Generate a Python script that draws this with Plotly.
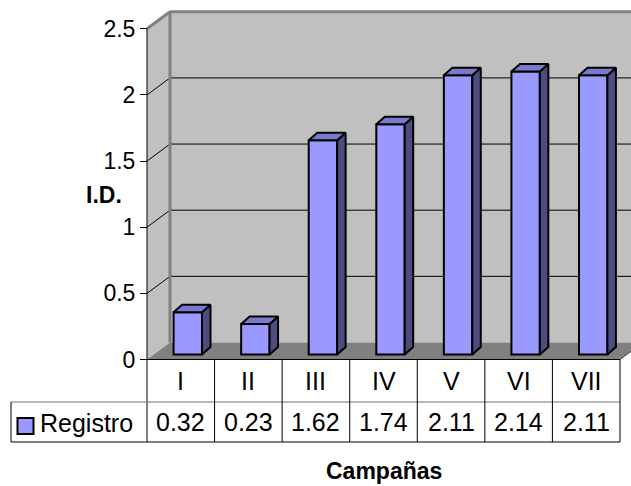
import plotly.graph_objects as go

# ---------------- data ----------------
categories = ["I", "II", "III", "IV", "V", "VI", "VII"]
values = [0.32, 0.23, 1.62, 1.74, 2.11, 2.14, 2.11]
series_name = "Registro"
y_ticks = [0, 0.5, 1, 1.5, 2, 2.5]
y_title = "I.D."
x_title = "Campañas"

# ---------------- geometry (pixel calibration) ----------------
W, H = 631, 486
X0 = 147.0      # left edge of category area (px)
COLW = 67.57    # column width (px)
Y0 = 359.5      # baseline (px from top)
K = 132.3       # px per value unit


def ux(px):
    return (px - X0) / COLW - 0.5


def uy(py):
    return (Y0 - py) / K


n = len(categories)
XL, XR = -0.5, n - 0.5
YMAX = y_ticks[-1]
DX, DY = 23 / COLW, 17 / K          # wall depth
BX, BY = 7 / COLW, 5 / K            # bar set-back
BW = 28.4 / COLW                    # bar width
SDX, SDY = 8.5 / COLW, 7.5 / K      # bar depth

FRONT = "#9999FF"
TOP = "#7A7ACC"
SIDE = "#4C4C80"
WALL = "#C0C0C0"
FLOOR = "#808080"
FONT = "Liberation Sans, Arial, sans-serif"
FS_TICK = 23
FS_TABLE = 25
FS_TITLE = 23

fig = go.Figure()

# bar front faces
fig.add_trace(go.Bar(
    x=[i + BX for i in range(n)], y=values, base=BY, width=BW,
    marker=dict(color=FRONT, line=dict(color="black", width=2)),
    hoverinfo="skip", showlegend=False,
))

# side and top faces
for i, v in enumerate(values):
    xl = i + BX - BW / 2
    xr = i + BX + BW / 2
    yt = BY + v
    fig.add_trace(go.Scatter(
        x=[xr, xr, xr + SDX, xr + SDX, xr], y=[BY, yt, yt + SDY, BY + SDY, BY],
        mode="lines", fill="toself", fillcolor=SIDE,
        line=dict(color="black", width=2), hoverinfo="skip", showlegend=False,
    ))
    fig.add_trace(go.Scatter(
        x=[xl, xr, xr + SDX, xl + SDX, xl], y=[yt, yt, yt + SDY, yt + SDY, yt],
        mode="lines", fill="toself", fillcolor=TOP,
        line=dict(color="black", width=2), hoverinfo="skip", showlegend=False,
    ))

shapes = []
XEND = ux(W) + 0.5
# back wall
shapes.append(dict(type="rect", xref="x", yref="y", x0=XL + DX, x1=XEND,
                   y0=DY, y1=YMAX + DY, fillcolor=WALL, line=dict(width=0), layer="below"))
# side wall
shapes.append(dict(type="path", xref="x", yref="y",
                   path=f"M {XL} 0 L {XL} {YMAX} L {XL+DX} {YMAX+DY} L {XL+DX} {DY} Z",
                   fillcolor=WALL, line=dict(width=0), layer="below"))
# floor
shapes.append(dict(type="path", xref="x", yref="y",
                   path=f"M {XL} 0 L {XR} 0 L {XR+DX} {DY} L {XL+DX} {DY} Z",
                   fillcolor=FLOOR, line=dict(width=0), layer="below"))
# gridlines
for t in y_ticks[1:-1]:
    shapes.append(dict(type="line", xref="x", yref="y", x0=XL + DX, x1=XEND,
                       y0=t + DY, y1=t + DY, line=dict(color="black", width=1), layer="below"))
    shapes.append(dict(type="line", xref="x", yref="y", x0=XL, x1=XL + DX,
                       y0=t, y1=t + DY, line=dict(color="black", width=1), layer="below"))
# wall borders
shapes.append(dict(type="line", xref="x", yref="y", x0=XL + DX, x1=XEND,
                   y0=YMAX + DY, y1=YMAX + DY, line=dict(color=FLOOR, width=3), layer="below"))
shapes.append(dict(type="line", xref="x", yref="y", x0=XL, x1=XL + DX,
                   y0=YMAX, y1=YMAX + DY, line=dict(color=FLOOR, width=3), layer="below"))
shapes.append(dict(type="line", xref="x", yref="y", x0=XL + DX, x1=XL + DX,
                   y0=DY, y1=YMAX + DY, line=dict(color=FLOOR, width=3), layer="below"))
# floor right edge
shapes.append(dict(type="line", xref="x", yref="y", x0=XR, x1=XR + DX,
                   y0=0, y1=DY, line=dict(color="#404040", width=1)))

# axis line + table
ROW1 = uy(402)
ROW2 = uy(442)
LEFT = ux(11)
shapes.append(dict(type="line", xref="x", yref="y", x0=XL, x1=XL, y0=YMAX, y1=ROW2,
                   line=dict(color="black", width=1)))
shapes.append(dict(type="line", xref="x", yref="y", x0=XL, x1=XR, y0=0, y1=0,
                   line=dict(color="black", width=1)))
shapes.append(dict(type="line", xref="x", yref="y", x0=LEFT, x1=XR, y0=ROW1, y1=ROW1,
                   line=dict(color="#707070", width=1)))
shapes.append(dict(type="line", xref="x", yref="y", x0=LEFT, x1=XR, y0=ROW2, y1=ROW2,
                   line=dict(color="black", width=1)))
shapes.append(dict(type="line", xref="x", yref="y", x0=LEFT, x1=LEFT, y0=ROW1, y1=ROW2,
                   line=dict(color="black", width=1)))
for i in range(n):
    xb = i + 0.5
    shapes.append(dict(type="line", xref="x", yref="y", x0=xb, x1=xb, y0=0, y1=ROW2,
                       line=dict(color="black", width=1)))
# legend key
shapes.append(dict(type="rect", xref="x", yref="y", x0=ux(17.5), x1=ux(33.5),
                   y0=uy(434), y1=uy(418), fillcolor=FRONT,
                   line=dict(color="black", width=2)))

annotations = []
for i, c in enumerate(categories):
    annotations.append(dict(x=i, y=uy(381), xref="x", yref="y", text=c, showarrow=False,
                            font=dict(family=FONT, size=FS_TABLE, color="black")))
for i, v in enumerate(values):
    annotations.append(dict(x=i, y=uy(422), xref="x", yref="y", text=f"{v:.2f}",
                            showarrow=False, font=dict(family=FONT, size=FS_TABLE, color="black")))
annotations.append(dict(x=ux(38), y=uy(423), xref="x", yref="y", text=series_name,
                        xanchor="left", showarrow=False,
                        font=dict(family=FONT, size=FS_TABLE, color="black")))
annotations.append(dict(x=ux(104), y=uy(195), xref="x", yref="y", text=f"<b>{y_title}</b>",
                        showarrow=False, font=dict(family=FONT, size=FS_TITLE, color="black")))
annotations.append(dict(x=(XL + XR) / 2, y=uy(471), xref="x", yref="y",
                        text=f"<b>{x_title}</b>", showarrow=False,
                        font=dict(family=FONT, size=FS_TITLE, color="black")))

fig.update_layout(
    width=W, height=H,
    margin=dict(l=0, r=0, t=0, b=0),
    paper_bgcolor="white", plot_bgcolor="white",
    shapes=shapes, annotations=annotations, showlegend=False,
    xaxis=dict(range=[ux(0), ux(W)], visible=False, fixedrange=True),
    yaxis=dict(range=[uy(H), uy(0)], anchor="free", position=X0 / W,
               showgrid=False, zeroline=False, showline=False,
               tickmode="array", tickvals=y_ticks,
               ticktext=[f"{t:g}" for t in y_ticks],
               ticks="outside", ticklen=7, tickwidth=1, tickcolor="black",
               tickfont=dict(family=FONT, size=FS_TICK, color="black"), fixedrange=True),
    font=dict(family=FONT, size=FS_TICK, color="black"),
)

fig.write_html("out.html")
